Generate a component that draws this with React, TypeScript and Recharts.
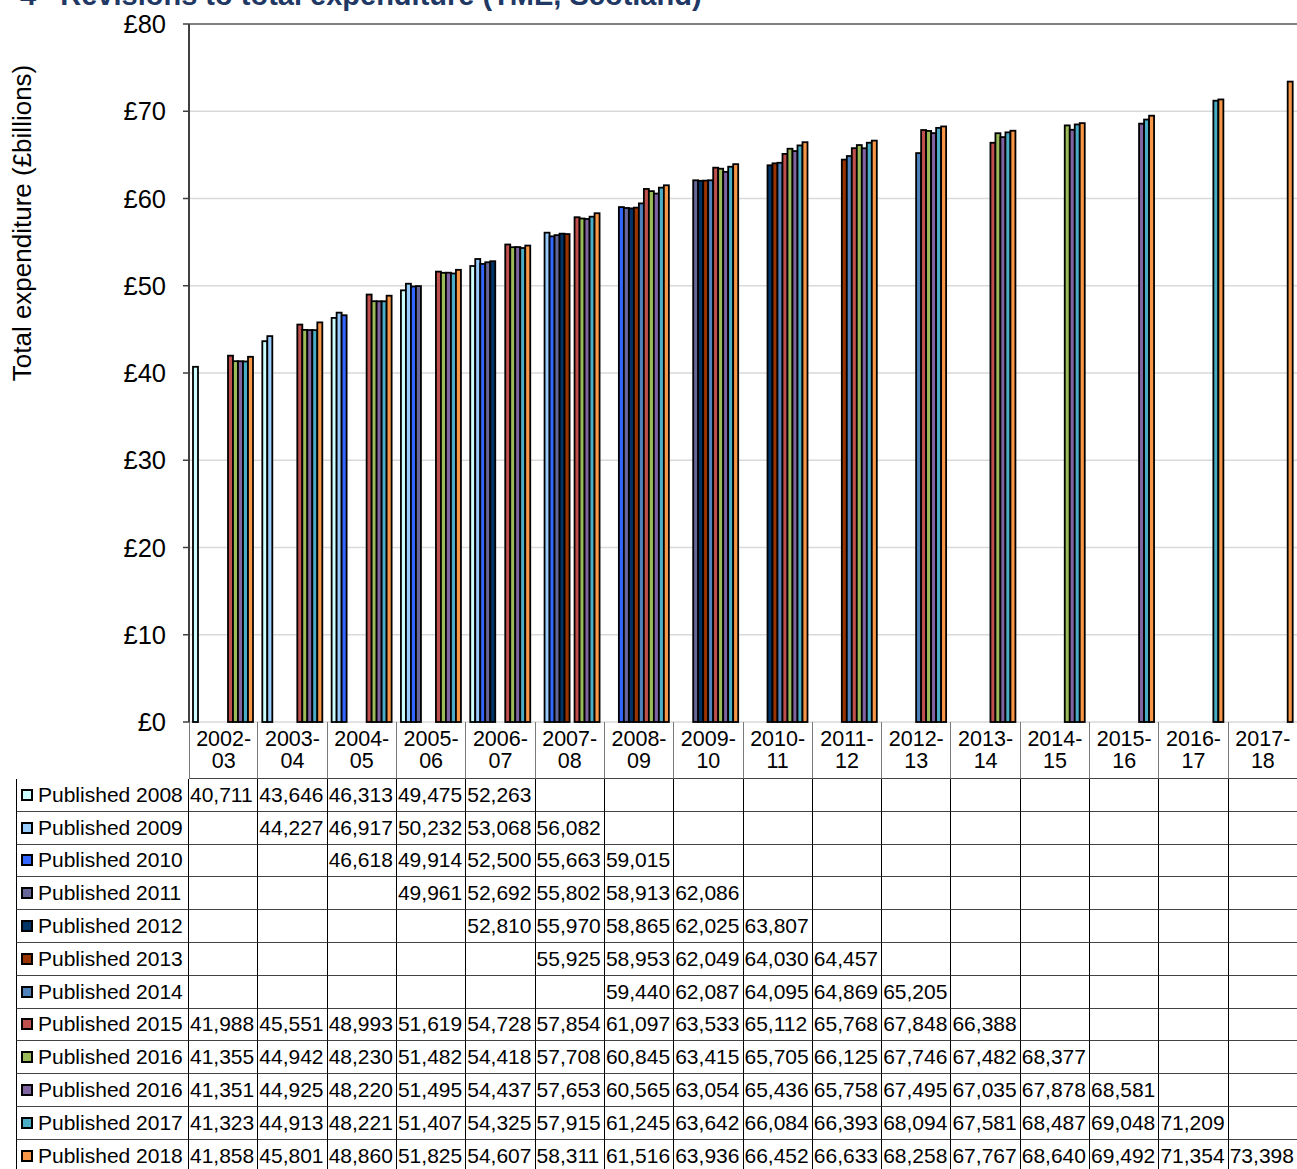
import React from "react";
import { Bar, BarChart, CartesianGrid, ReferenceLine, XAxis, YAxis } from "recharts";

const categories = [
  "2002-03", "2003-04", "2004-05", "2005-06", "2006-07", "2007-08", "2008-09", "2009-10",
  "2010-11", "2011-12", "2012-13", "2013-14", "2014-15", "2015-16", "2016-17", "2017-18",
];

const seriesNames = [
  "Published 2008", "Published 2009", "Published 2010", "Published 2011",
  "Published 2012", "Published 2013", "Published 2014", "Published 2015",
  "Published 2016", "Published 2016", "Published 2017", "Published 2018",
];

const seriesColors = [
  "#CCFFFF", "#99CCFF", "#3366FF", "#666699", "#003366", "#993300",
  "#4F81BD", "#C0504D", "#9BBB59", "#8064A2", "#4BACC6", "#F79646",
];

// £ millions, one entry per category (null = not published)
const pub2008 = [40711, 43646, 46313, 49475, 52263, null, null, null, null, null, null, null, null, null, null, null];
const pub2009 = [null, 44227, 46917, 50232, 53068, 56082, null, null, null, null, null, null, null, null, null, null];
const pub2010 = [null, null, 46618, 49914, 52500, 55663, 59015, null, null, null, null, null, null, null, null, null];
const pub2011 = [null, null, null, 49961, 52692, 55802, 58913, 62086, null, null, null, null, null, null, null, null];
const pub2012 = [null, null, null, null, 52810, 55970, 58865, 62025, 63807, null, null, null, null, null, null, null];
const pub2013 = [null, null, null, null, null, 55925, 58953, 62049, 64030, 64457, null, null, null, null, null, null];
const pub2014 = [null, null, null, null, null, null, 59440, 62087, 64095, 64869, 65205, null, null, null, null, null];
const pub2015 = [41988, 45551, 48993, 51619, 54728, 57854, 61097, 63533, 65112, 65768, 67848, 66388, null, null, null, null];
const pub2016 = [41355, 44942, 48230, 51482, 54418, 57708, 60845, 63415, 65705, 66125, 67746, 67482, 68377, null, null, null];
const pub2016b = [41351, 44925, 48220, 51495, 54437, 57653, 60565, 63054, 65436, 65758, 67495, 67035, 67878, 68581, null, null];
const pub2017 = [41323, 44913, 48221, 51407, 54325, 57915, 61245, 63642, 66084, 66393, 68094, 67581, 68487, 69048, 71209, null];
const pub2018 = [41858, 45801, 48860, 51825, 54607, 58311, 61516, 63936, 66452, 66633, 68258, 67767, 68640, 69492, 71354, 73398];

const series = [pub2008, pub2009, pub2010, pub2011, pub2012, pub2013, pub2014, pub2015, pub2016, pub2016b, pub2017, pub2018];

const yTicks = [0, 10, 20, 30, 40, 50, 60, 70, 80];

const chartData = categories.map((cat, i) => {
  const row: Record<string, string | number | null> = { cat };
  series.forEach((s, k) => {
    row[`s${k}`] = s[i] == null ? null : (s[i] as number) / 1000;
  });
  return row;
});

const FONT = "'Liberation Sans', Arial, sans-serif";

function BarShape(props: any) {
  const { x, y, width, height, fill } = props;
  if (!height || height <= 0 || isNaN(height)) return <g />;
  return <rect x={x} y={y} width={width} height={height} fill={fill} stroke="#000" strokeWidth={1.8} />;
}

function YLabel() {
  return (
    <text
      x={31}
      y={223}
      transform="rotate(-90, 31, 223)"
      textAnchor="middle"
      fontSize={26}
      fontFamily={FONT}
      fill="#000"
    >
      Total expenditure (£billions)
    </text>
  );
}

function DataTable() {
  const rowH = 32.8;
  const vLine = "1px solid #000";
  const hLine = "1px solid #444";
  const cells: React.ReactNode[] = [];
  cells.push(<div key="corner" />);
  categories.forEach((cat, i) => {
    const [a, b] = cat.split("-");
    cells.push(
      <div
        key={`h${i}`}
        style={{
          borderRight: "1px solid #7a7a7a",
          borderLeft: i === 0 ? "1px solid #7a7a7a" : undefined,
          borderBottom: hLine,
          display: "flex",
          flexDirection: "column",
          alignItems: "center",
          justifyContent: "center",
          fontSize: 21.5,
          lineHeight: "22px",
        }}
      >
        <span>{a}-</span>
        <span>{b}</span>
      </div>
    );
  });
  series.forEach((s, k) => {
    cells.push(
      <div
        key={`n${k}`}
        style={{
          borderLeft: vLine,
          borderRight: vLine,
          borderBottom: hLine,
          display: "flex",
          alignItems: "center",
          fontSize: 21,
          whiteSpace: "nowrap",
        }}
      >
        <span
          style={{
            display: "inline-block",
            width: 8,
            height: 8,
            border: "2px solid #000",
            background: seriesColors[k],
            marginLeft: 4,
            marginRight: 5,
          }}
        />
        {seriesNames[k]}
      </div>
    );
    s.forEach((v, i) => {
      cells.push(
        <div
          key={`c${k}-${i}`}
          style={{
            borderRight: vLine,
            borderBottom: hLine,
            display: "flex",
            alignItems: "center",
            paddingLeft: 1,
            fontSize: 21,
            whiteSpace: "nowrap",
            overflow: "hidden",
          }}
        >
          {v == null ? "" : v.toLocaleString("en-GB")}
        </div>
      );
    });
  });
  return (
    <div
      style={{
        position: "absolute",
        left: 16,
        top: 722,
        width: 1282,
        display: "grid",
        gridTemplateColumns: "173px repeat(16, 1fr)",
        gridTemplateRows: `57px repeat(12, ${rowH}px)`,
        fontFamily: FONT,
        color: "#000",
        boxSizing: "border-box",
      }}
    >
      {cells}
    </div>
  );
}

export default function App() {
  return (
    <div
      style={{
        position: "absolute",
        left: 0,
        top: 0,
        width: 1297,
        height: 1169,
        overflow: "hidden",
        background: "#fff",
        fontFamily: FONT,
      }}
    >
      <div
        style={{
          position: "absolute",
          left: 20,
          top: -21,
          fontSize: 29,
          fontWeight: "bold",
          color: "#1F3864",
          whiteSpace: "pre",
          lineHeight: "normal",
        }}
      >
        4   Revisions to total expenditure (TME, Scotland)
      </div>
      <div style={{ position: "absolute", left: 0, top: 0 }}>
        <BarChart
          width={1298}
          height={760}
          data={chartData}
          margin={{ top: 24, right: 0, left: 0, bottom: 38 }}
          barGap={0}
          barCategoryGap={4}
        >
          <CartesianGrid vertical={false} stroke="#d9d9d9" strokeWidth={1.5} />
          <XAxis dataKey="cat" height={0} tick={false} tickLine={false} axisLine={{ stroke: "#000", strokeWidth: 1.5 }} />
          <YAxis
            width={189}
            domain={[0, 80]}
            ticks={yTicks}
            interval={0}
            tickFormatter={(v: number) => `£${v}`}
            tick={{ fontSize: 25.5, fill: "#000", fontFamily: FONT }}
            tickSize={6}
            tickMargin={17}
            tickLine={{ stroke: "#404040", strokeWidth: 1.5 }}
            axisLine={{ stroke: "#404040", strokeWidth: 2 }}
            label={<YLabel />}
          />
          <ReferenceLine y={80} stroke="#808080" strokeWidth={2} />
          {series.map((_, k) => (
            <Bar
              key={k}
              dataKey={`s${k}`}
              name={seriesNames[k]}
              fill={seriesColors[k]}
              shape={<BarShape />}
              isAnimationActive={false}
            />
          ))}
        </BarChart>
      </div>
      <DataTable />
    </div>
  );
}
